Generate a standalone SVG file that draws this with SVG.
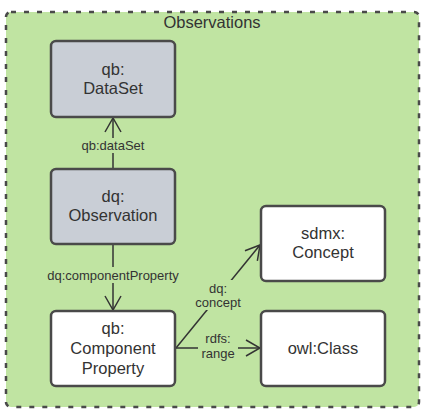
<svg xmlns="http://www.w3.org/2000/svg" width="429" height="416" viewBox="0 0 429 416">
<style>
.node{stroke:#4a4a4a;stroke-width:2.5}
.gray{fill:#c9ced6}
.white{fill:#ffffff}
.nt{font-family:"Liberation Sans",Arial,sans-serif;font-size:16.5px;fill:#333333;text-anchor:middle}
.el{font-family:"Liberation Sans",Arial,sans-serif;font-size:13px;fill:#333333;text-anchor:middle}
.edge{stroke:#333333;stroke-width:1.5;fill:none}
</style>
<defs>
<marker id="arr" viewBox="0 0 16 18" refX="15" refY="9" markerWidth="16" markerHeight="18" markerUnits="userSpaceOnUse" orient="auto">
<path d="M1,1 L15,9 L1,17" fill="none" stroke="#333333" stroke-width="1.5"/>
</marker>
</defs>
<g id="container">
<rect x="6" y="12" width="413" height="395" rx="5" fill="#c0e4a2" stroke="#4a4a4a" stroke-width="2.5" stroke-dasharray="5 8"/>
<text class="nt" x="212" y="28">Observations</text>
</g>
<g id="connectors">
<path class="edge" d="M113,169 L113,118" marker-end="url(#arr)"/>
<path class="edge" d="M113,243 L113,310" marker-end="url(#arr)"/>
<path class="edge" d="M176,348 L260,348" marker-end="url(#arr)"/>
<path class="edge" d="M176,348 L260,245" marker-end="url(#arr)"/>
<rect x="76" y="138" width="74" height="15" fill="#c0e4a2"/>
<text class="el" x="113" y="150">qb:dataSet</text>
<rect x="44" y="267" width="138" height="16" fill="#c0e4a2"/>
<text class="el" x="113" y="279.5">dq:componentProperty</text>
<rect x="194" y="280" width="50" height="30" fill="#c0e4a2"/>
<text class="el" x="218" y="292.5">dq:</text>
<text class="el" x="218" y="306.5">concept</text>
<rect x="198" y="331" width="40" height="30" fill="#c0e4a2"/>
<text class="el" x="218" y="342.5">rdfs:</text>
<text class="el" x="218" y="357.5">range</text>
</g>
<g id="dataset">
<rect class="node gray" x="51" y="41" width="124" height="76" rx="5"/>
<text class="nt" x="113" y="75">qb:</text>
<text class="nt" x="113" y="94">DataSet</text>
</g>
<g id="observation">
<rect class="node gray" x="51" y="169" width="124" height="75" rx="5"/>
<text class="nt" x="113" y="202">dq:</text>
<text class="nt" x="113" y="221">Observation</text>
</g>
<g id="concept">
<rect class="node white" x="261" y="206" width="124" height="75" rx="5"/>
<text class="nt" x="323" y="239">sdmx:</text>
<text class="nt" x="323" y="258">Concept</text>
</g>
<g id="componentproperty">
<rect class="node white" x="51" y="311" width="124" height="75" rx="5"/>
<text class="nt" x="113" y="334">qb:</text>
<text class="nt" x="113" y="354">Component</text>
<text class="nt" x="113" y="374">Property</text>
</g>
<g id="owlclass">
<rect class="node white" x="261" y="311" width="124" height="75" rx="5"/>
<text class="nt" x="323" y="354">owl:Class</text>
</g>
</svg>
